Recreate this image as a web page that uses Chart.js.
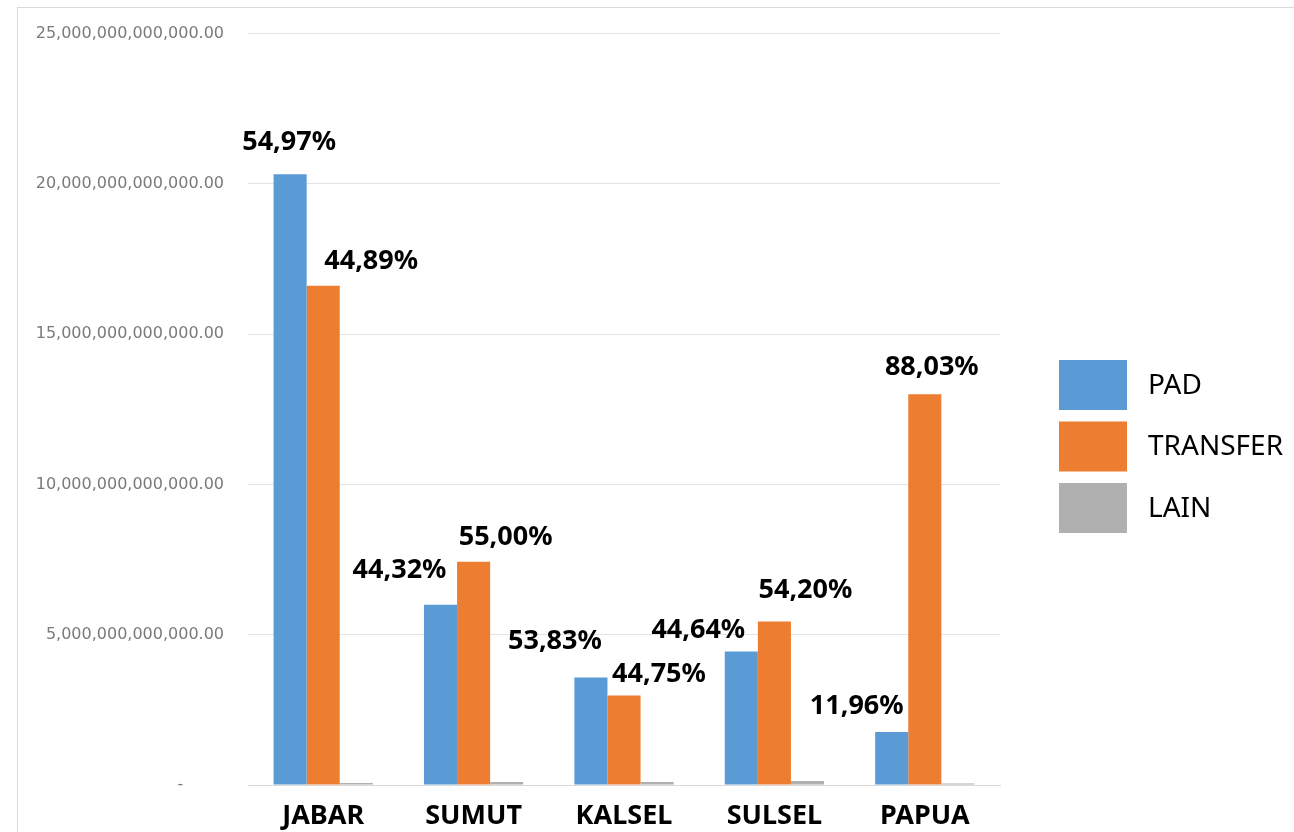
<!DOCTYPE html>
<html>
<head>
<meta charset="utf-8">
<script src="https://cdn.jsdelivr.net/npm/chart.js@4.4.1/dist/chart.umd.min.js"></script>
<style>
  html, body { margin: 0; padding: 0; background: #fff; }
  #wrap { position: relative; width: 1294px; height: 832px; overflow: hidden; }
  #frame { position: absolute; left: 17px; top: 7px; width: 1300px; height: 840px; border: 1px solid #d9d9d9; }
  #chart { position: absolute; left: 0; top: 0; }
</style>
</head>
<body>
<div id="wrap">
  <div id="frame"></div>
  <canvas id="chart" width="1294" height="832"></canvas>
</div>
<script>
// Data
const provinces = ['JABAR', 'SUMUT', 'KALSEL', 'SULSEL', 'PAPUA']
const padValues = [20.32e12, 6.0e12, 3.58e12, 4.44e12, 1.76e12]
const transferValues = [16.61e12, 7.43e12, 2.98e12, 5.44e12, 13.0e12]
const lainValues = [0.07e12, 0.1e12, 0.1e12, 0.13e12, 0.05e12]
const padPct = ['54,97%', '44,32%', '53,83%', '44,64%', '11,96%']
const transferPct = ['44,89%', '55,00%', '44,75%', '54,20%', '88,03%']
const yTicks = [0, 5e12, 10e12, 15e12, 20e12, 25e12]

const colors = ['#5b9bd5', '#ed7d31', '#b0b0b0']

// label nudges (dx, dy from bar top centre), as placed by hand in the original
const padShift = [[-1, -32], [-41, -34], [-36, -36], [-43, -21], [-35, -26]]
const transferShift = [[48, -24], [32, -24], [35, -21], [31, -31], [7, -27]]

const pctLabels = {
  id: 'pctLabels',
  afterDatasetsDraw(chart) {
    const ctx = chart.ctx
    ctx.save()
    ctx.font = 'bold 27px "Noto Sans"'
    ctx.fillStyle = '#000'
    ctx.textAlign = 'center'
    ctx.textBaseline = 'middle'
    const sets = [[0, padPct, padShift], [1, transferPct, transferShift]]
    sets.forEach(([di, texts, shifts]) => {
      chart.getDatasetMeta(di).data.forEach((bar, i) => {
        ctx.fillText(texts[i], bar.x + shifts[i][0], bar.y + shifts[i][1])
      })
    })
    ctx.restore()
  }
}

const boxLegend = {
  id: 'boxLegend',
  afterDraw(chart) {
    const ctx = chart.ctx
    ctx.save()
    ctx.font = '28px "Noto Sans"'
    ctx.textBaseline = 'middle'
    chart.data.datasets.forEach((ds, i) => {
      const y = 360 + i * 61.5
      ctx.fillStyle = ds.backgroundColor
      ctx.fillRect(1059, y, 68, 50)
      ctx.fillStyle = '#000'
      ctx.fillText(ds.label, 1148, y + 26)
    })
    ctx.restore()
  }
}

function fmtTick(value) {
  if (value === 0) return '-        '
  return value.toLocaleString('en-US', { minimumFractionDigits: 2, maximumFractionDigits: 2 })
}

new Chart(document.getElementById('chart'), {
  type: 'bar',
  data: {
    labels: provinces,
    datasets: [
      { label: 'PAD', data: padValues, backgroundColor: colors[0] },
      { label: 'TRANSFER', data: transferValues, backgroundColor: colors[1] },
      { label: 'LAIN', data: lainValues, backgroundColor: colors[2] }
    ]
  },
  options: {
    responsive: false,
    animation: false,
    layout: { padding: { left: 0, right: 294, top: 29, bottom: 0 } },
    datasets: { bar: { categoryPercentage: 0.66, barPercentage: 1.0 } },
    plugins: {
      legend: { display: false },
      tooltip: { enabled: false }
    },
    scales: {
      x: {
        grid: { display: false, drawTicks: false },
        border: { display: true, color: '#d9d9d9', width: 1 },
        ticks: {
          color: '#000',
          padding: 15,
          font: { family: 'Noto Sans', size: 27, weight: 'bold' }
        },
        afterFit(scale) { scale.height = 47 }
      },
      y: {
        min: 0,
        max: 25e12,
        afterBuildTicks(scale) { scale.ticks = yTicks.map((v) => ({ value: v })) },
        grid: { color: '#e3e3e3', drawTicks: false },
        border: { display: false },
        ticks: {
          color: '#7a7a7a',
          padding: 24,
          font: { family: 'DejaVu Sans', size: 16 },
          callback: fmtTick
        },
        afterFit(scale) { scale.width = 248 }
      }
    }
  },
  plugins: [pctLabels, boxLegend]
})
</script>
</body>
</html>
